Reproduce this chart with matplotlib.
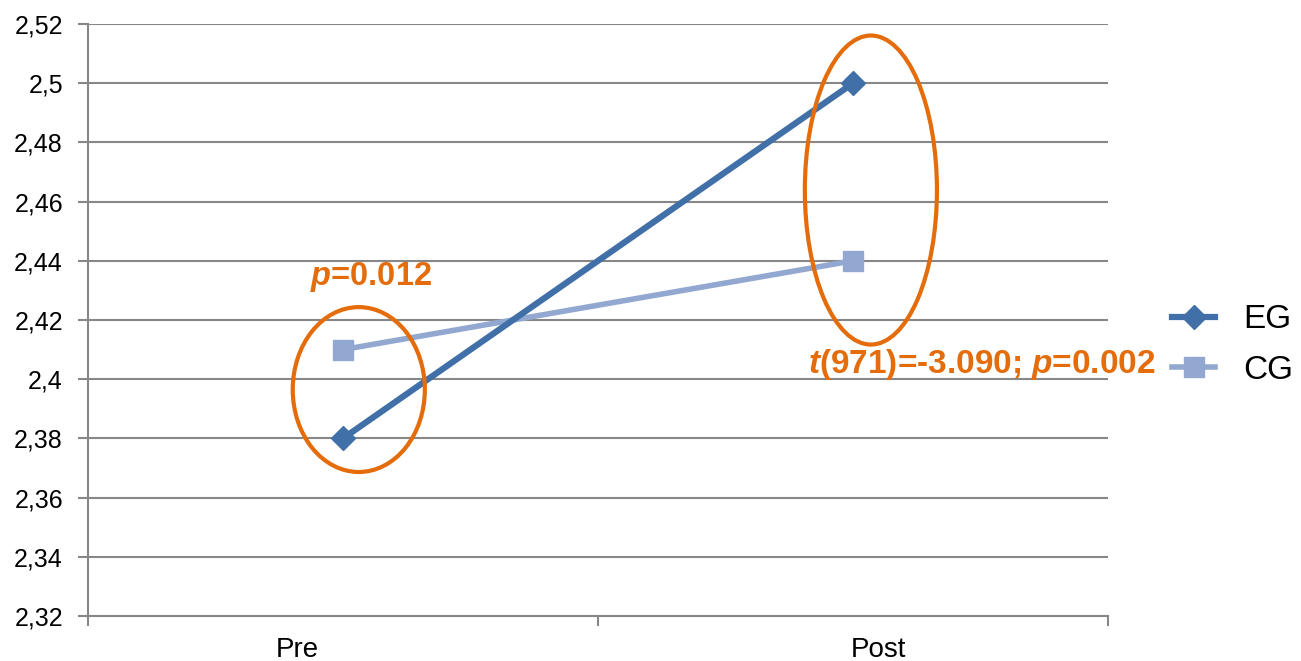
import matplotlib.pyplot as plt
from matplotlib.patches import Ellipse
from matplotlib.ticker import FixedLocator

# mean scores per group, pre and post
phases = ["Pre", "Post"]
eg_scores = [2.38, 2.50]
cg_scores = [2.41, 2.44]
y_ticks = [2.32, 2.34, 2.36, 2.38, 2.40, 2.42, 2.44, 2.46, 2.48, 2.50, 2.52]
pre_note = "$p$=0.012"
post_note = "$t$(971)=-3.090; $p$=0.002"

plt.rcParams["font.family"] = ["Liberation Sans", "DejaVu Sans"]
plt.rcParams["mathtext.fontset"] = "custom"
plt.rcParams["mathtext.it"] = "Liberation Sans:italic:bold"
plt.rcParams["mathtext.rm"] = "Liberation Sans:bold"

orange = "#E46C0A"
grid_gray = "#878787"

fig = plt.figure(figsize=(13.01, 6.61), dpi=100)
ax = fig.add_axes([0.0676, 0.0681, 0.7841, 0.8956])

x = list(range(len(phases)))
ax.plot(x, eg_scores, color="#4170A8", lw=4.5, marker="D", ms=12.5, label="EG", zorder=4)
ax.plot(x, cg_scores, color="#92A8D0", lw=4, marker="s", ms=14, label="CG", zorder=3)

ax.set_xlim(-0.5, 1.5)
ax.set_ylim(2.32, 2.52)
ax.set_yticks(y_ticks)
ax.set_yticklabels([f"{v:g}".replace(".", ",") for v in y_ticks])
# category boundaries get the tick marks, names sit between them
ax.xaxis.set_major_locator(FixedLocator([-0.5, 0.5, 1.5]))
ax.xaxis.set_minor_locator(FixedLocator([-0.09, 1.049]))
ax.set_xticklabels([], minor=False)
ax.set_xticklabels(phases, minor=True)
ax.tick_params(axis="x", which="major", length=7, color=grid_gray, width=1.5)
ax.tick_params(axis="x", which="minor", length=0, labelsize=20, pad=15)
ax.tick_params(axis="y", length=7, color=grid_gray, width=1.5, labelsize=18, pad=11)

ax.grid(axis="y", color=grid_gray, lw=1.5)
ax.set_axisbelow(True)
for side in ["top", "right"]:
    ax.spines[side].set_visible(False)
for side in ["left", "bottom"]:
    ax.spines[side].set_color(grid_gray)
    ax.spines[side].set_linewidth(1.5)

# circles around significant differences
ax.add_patch(Ellipse((0.031, 2.3965), 0.259, 0.0557, fill=False, ec=orange, lw=3, zorder=5, clip_on=False))
ax.add_patch(Ellipse((1.035, 2.4639), 0.259, 0.1044, fill=False, ec=orange, lw=3, zorder=5, clip_on=False))

ax.text(-0.065, 2.4318, pre_note, color=orange, fontsize=23.5, fontweight="bold", va="baseline", clip_on=False)
ax.text(0.912, 2.4022, post_note, color=orange, fontsize=24, fontweight="bold", va="baseline", clip_on=False)

ax.legend(loc="center left", bbox_to_anchor=(1.0627, 0.458), frameon=False, fontsize=24,
          borderpad=0, borderaxespad=0, handlelength=1.3, handletextpad=0.85, labelspacing=0.58)

fig.savefig("out.png", dpi=100)
